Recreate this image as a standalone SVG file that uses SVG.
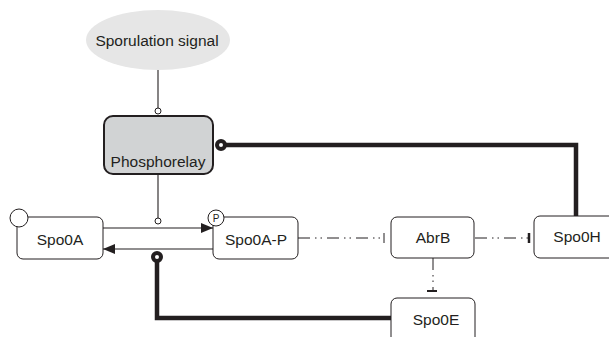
<svg xmlns="http://www.w3.org/2000/svg" width="609" height="337" viewBox="0 0 609 337">
<style>
text{font-family:"Liberation Sans",Arial,sans-serif;font-size:15.5px;fill:#231f20;text-anchor:middle}
.box{fill:#fff;stroke:#231f20;stroke-width:1}
.thin{fill:none;stroke:#231f20;stroke-width:1.1}
.thick{fill:none;stroke:#231f20;stroke-width:4.5}
.dd{fill:none;stroke:#231f20;stroke-width:1;stroke-dasharray:12 5 1.5 4 1.5 5}
.ring{fill:#fff;stroke:#231f20;stroke-width:4}
.sc{fill:#fff;stroke:#231f20;stroke-width:1}
</style>
<defs>
<marker id="arr" viewBox="0 0 12 10" refX="12" refY="5" markerWidth="12" markerHeight="10" markerUnits="userSpaceOnUse" orient="auto">
<path d="M0,0 L12,5 L0,10 Z" fill="#231f20"/>
</marker>
</defs>
<g id="connectors">
<line class="thin" x1="158" y1="70" x2="158" y2="108"/>
<circle class="sc" cx="158" cy="111" r="3"/>
<line class="thin" x1="158" y1="174" x2="158" y2="218"/>
<circle class="sc" cx="158" cy="221" r="3"/>
<line class="thin" x1="103" y1="228" x2="213" y2="228" marker-end="url(#arr)"/>
<line class="thin" x1="214" y1="249" x2="103" y2="249" marker-end="url(#arr)"/>
<polyline class="thick" points="225,145 576,145 576,216"/>
<circle class="ring" cx="221" cy="145" r="4"/>
<polyline class="thick" points="391,318 157,318 157,261"/>
<circle class="ring" cx="157" cy="257" r="4"/>
<line class="dd" x1="298" y1="238" x2="384" y2="238"/>
<line x1="384" y1="233" x2="384" y2="243" stroke="#231f20" stroke-width="1"/>
<line class="dd" x1="475" y1="238" x2="529" y2="238"/>
<line x1="529" y1="233" x2="529" y2="243" stroke="#231f20" stroke-width="2.5"/>
<line class="dd" x1="433" y1="258" x2="433" y2="291"/>
<line x1="427" y1="291" x2="437" y2="291" stroke="#231f20" stroke-width="2"/>
</g>
<g id="signal">
<ellipse cx="158" cy="40" rx="72" ry="30" fill="#e6e6e6"/>
<text x="157" y="46">Sporulation signal</text>
</g>
<g id="phosphorelay">
<rect x="104" y="116" width="109" height="58" rx="9" fill="#d1d3d4" stroke="#231f20" stroke-width="2"/>
<text x="158" y="167">Phosphorelay</text>
</g>
<g id="spo0a">
<rect class="box" x="17" y="217" width="86" height="42" rx="6"/>
<circle class="sc" cx="19" cy="218" r="9"/>
<text x="60" y="245">Spo0A</text>
</g>
<g id="spo0ap">
<rect class="box" x="213" y="217" width="85" height="42" rx="6"/>
<circle class="sc" cx="216" cy="218" r="8"/>
<text x="216" y="222" style="font-size:10px">P</text>
<text x="256" y="245">Spo0A-P</text>
</g>
<g id="abrb">
<rect class="box" x="391" y="217" width="83" height="41" rx="6"/>
<text x="433" y="243">AbrB</text>
</g>
<g id="spo0h">
<rect class="box" x="534" y="216" width="85" height="42" rx="6"/>
<text x="577" y="242">Spo0H</text>
</g>
<g id="spo0e">
<rect class="box" x="391" y="298" width="84" height="45" rx="6"/>
<text x="436" y="325">Spo0E</text>
</g>
</svg>
